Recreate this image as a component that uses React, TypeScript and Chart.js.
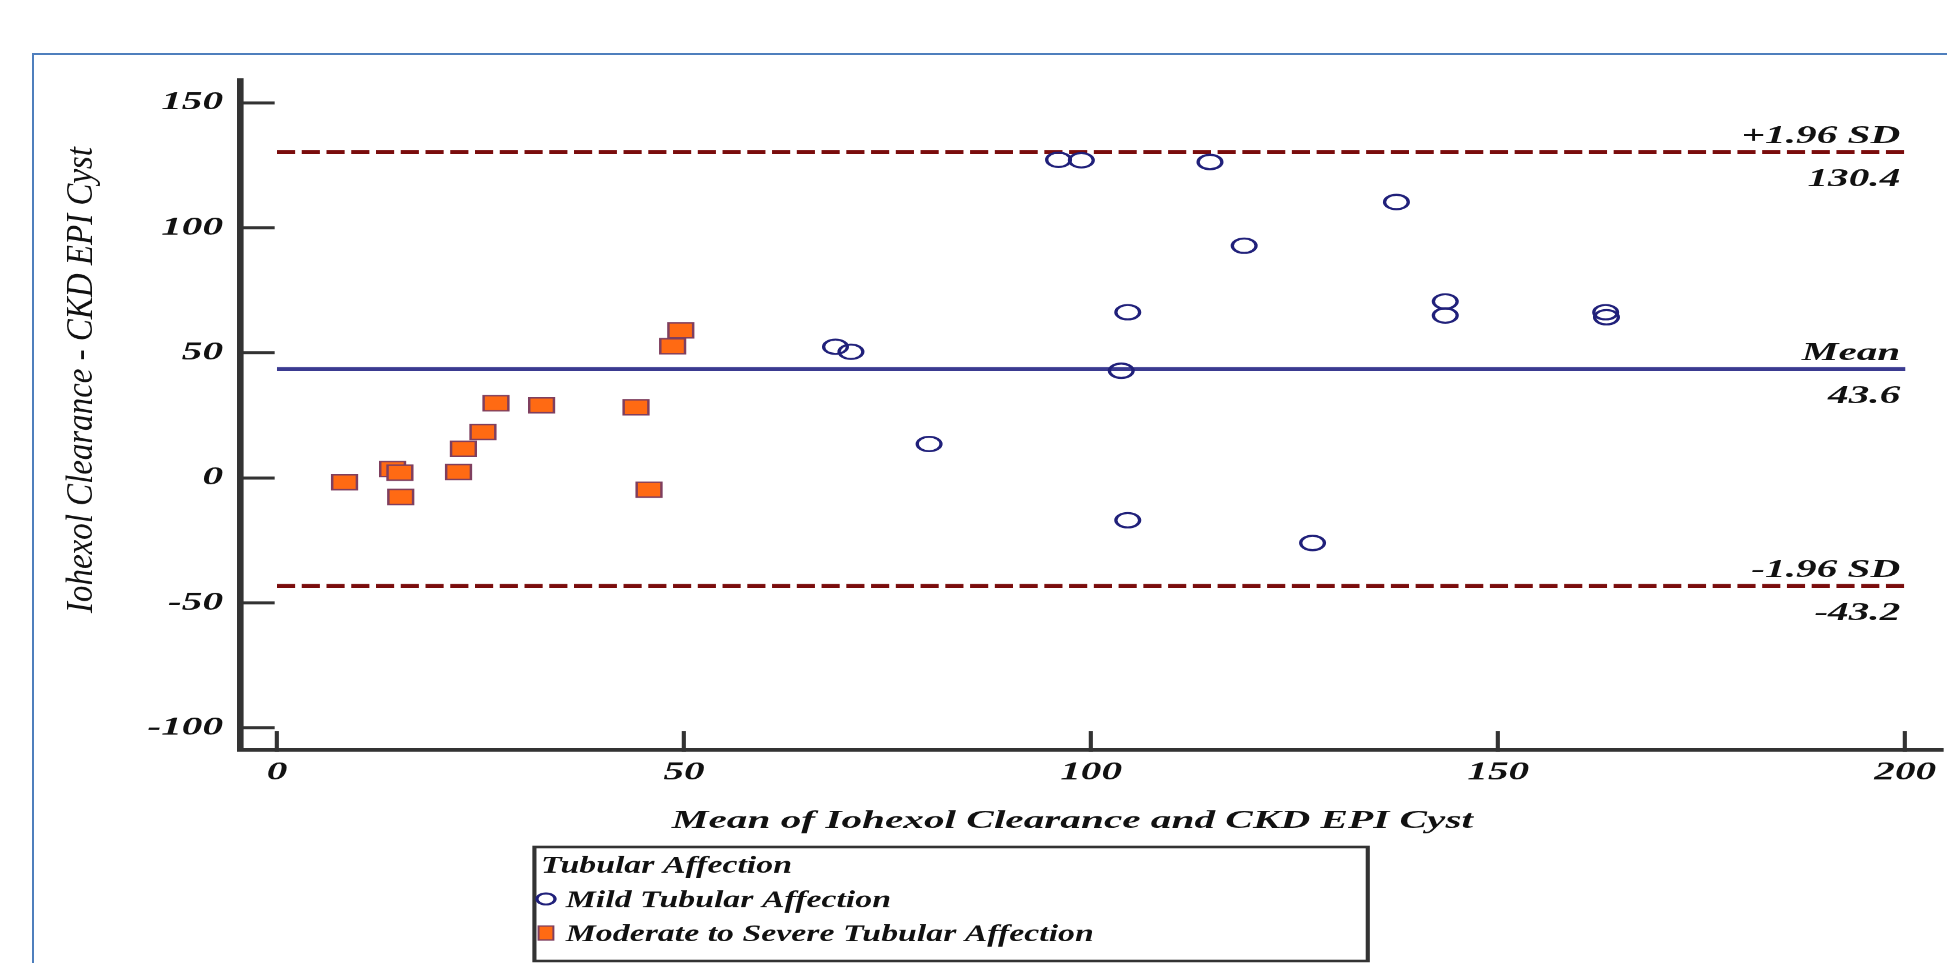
import React, { useEffect, useRef } from 'react';
import { Chart, registerables } from 'chart.js';

Chart.register(...registerables);

// ---- data ----
const mildX = [68.6, 70.5, 80.1, 96.0, 98.8, 103.7, 104.5, 104.5, 114.6, 118.8, 127.2, 137.5, 143.5, 143.5, 163.2, 163.3];
const mildY = [52.5, 50.5, 13.6, 127.3, 127.1, 42.9, 66.3, -16.9, 126.4, 92.9, -26.0, 110.4, 70.6, 65.0, 66.3, 64.3];
const severeX = [8.3, 14.2, 15.1, 15.2, 22.3, 22.9, 25.3, 26.9, 32.5, 44.1, 45.7, 48.6, 49.6];
const severeY = [-1.7, 3.6, 2.1, -7.6, 2.4, 11.7, 18.4, 29.9, 29.1, 28.3, -4.7, 52.7, 59.1];
const xTicks = [0, 50, 100, 150, 200];
const yTicks = [-100, -50, 0, 50, 100, 150];
const bandNames = ['+1.96 SD', 'Mean', '-1.96 SD'];
const bandValues = [130.4, 43.6, -43.2];
const seriesNames = ['Mild Tubular Affection', 'Moderate to Severe Tubular Affection'];
const legendTitle = 'Tubular Affection';
const xTitle = 'Mean of Iohexol Clearance and CKD EPI Cyst';
const yTitle = 'Iohexol Clearance - CKD EPI Cyst';

// ---- styling ----
const DISPLAY_W = 1939;
const DISPLAY_H = 955;
const LOGICAL_W = 1175; // canvas is stretched horizontally like the reference
const NAVY = '#20207a';
const ORANGE = '#ff6a13';
const SQ_BORDER = '#7f3f5f';
const MEAN_COLOR = '#3a3a90';
const SD_COLOR = '#7a0c0c';
const AXIS = '#333333';
const FAMILY = '"Liberation Serif", "Times New Roman", serif';

const bandLabelsPlugin = {
  id: 'bandLabels',
  afterDatasetsDraw(chart: any) {
    const { ctx, scales } = chart;
    const xs = scales.x;
    const ys = scales.y;
    ctx.save();
    ctx.font = `italic bold 25px ${FAMILY}`;
    ctx.fillStyle = '#111';
    ctx.textAlign = 'right';
    ctx.textBaseline = 'alphabetic';
    const xr = xs.getPixelForValue(xTicks[xTicks.length - 1]) - 3;
    bandNames.forEach((name, i) => {
      const py = ys.getPixelForValue(bandValues[i]);
      ctx.fillText(name, xr, py - 9);
      ctx.fillText(bandValues[i].toFixed(1), xr, py + 34);
    });
    ctx.restore();
  },
};

const titlesLegendPlugin = {
  id: 'titlesLegend',
  afterDraw(chart: any) {
    const { ctx } = chart;
    ctx.save();
    // y title (rotated, condensed)
    ctx.save();
    ctx.translate(45, 372);
    ctx.rotate(-Math.PI / 2);
    ctx.font = `italic 23px ${FAMILY}`;
    const w = ctx.measureText(yTitle).width;
    ctx.scale(466 / w, 1);
    ctx.fillStyle = '#111';
    ctx.textAlign = 'center';
    ctx.textBaseline = 'middle';
    ctx.fillText(yTitle, 0, 0);
    ctx.restore();

    // x title
    ctx.font = `italic bold 25px ${FAMILY}`;
    ctx.fillStyle = '#111';
    ctx.textAlign = 'center';
    ctx.textBaseline = 'alphabetic';
    ctx.fillText(xTitle, 645, 820);

    // legend box
    ctx.lineWidth = 2.5;
    ctx.strokeStyle = AXIS;
    ctx.strokeRect(319, 839, 505, 114);

    // legend texts (slightly condensed like the reference)
    ctx.font = `italic bold 24px ${FAMILY}`;
    const rowW = ctx.measureText(seriesNames[1]).width;
    const k = 320 / rowW;
    const drawText = (t: string, x: number, y: number) => {
      ctx.save();
      ctx.translate(x, y);
      ctx.scale(k, 1);
      ctx.fillText(t, 0, 0);
      ctx.restore();
    };
    ctx.textAlign = 'left';
    ctx.fillStyle = '#111';
    drawText(legendTitle, 323, 865);
    // circle marker
    ctx.beginPath();
    ctx.arc(326, 891, 5.5, 0, Math.PI * 2);
    ctx.lineWidth = 2;
    ctx.strokeStyle = NAVY;
    ctx.stroke();
    ctx.fillStyle = '#111';
    drawText(seriesNames[0], 338, 899);
    // square marker
    ctx.fillStyle = ORANGE;
    ctx.fillRect(321.5, 918, 9, 14);
    ctx.lineWidth = 1.2;
    ctx.strokeStyle = SQ_BORDER;
    ctx.strokeRect(321.5, 918, 9, 14);
    ctx.fillStyle = '#111';
    drawText(seriesNames[1], 338, 933);
    ctx.restore();
  },
};

const tickFont = { family: FAMILY, size: 25, style: 'italic' as const, weight: 'bold' as const };

export default function App() {
  const ref = useRef<HTMLCanvasElement>(null);

  useEffect(() => {
    const canvas = ref.current;
    if (!canvas) return;
    const lineData = (v: number) => [
      { x: xTicks[0], y: v },
      { x: xTicks[xTicks.length - 1], y: v },
    ];
    const chart = new Chart(canvas, {
      type: 'scatter',
      data: {
        datasets: [
          {
            label: seriesNames[0],
            data: mildX.map((x, i) => ({ x, y: mildY[i] })),
            pointStyle: 'circle',
            pointRadius: 7.2,
            pointBorderWidth: 2,
            pointBorderColor: NAVY,
            pointBackgroundColor: 'rgba(0,0,0,0)',
          },
          {
            label: seriesNames[1],
            data: severeX.map((x, i) => ({ x, y: severeY[i] })),
            pointStyle: 'rect',
            pointRadius: 10.6,
            pointBorderWidth: 1.5,
            pointBorderColor: SQ_BORDER,
            pointBackgroundColor: ORANGE,
          },
          ...bandValues.map((v, i) => ({
            label: bandNames[i],
            data: lineData(v),
            showLine: true,
            borderColor: i === 1 ? MEAN_COLOR : SD_COLOR,
            borderWidth: 4,
            borderDash: i === 1 ? [] : [11, 4],
            pointRadius: 0,
            fill: false,
          })),
        ],
      } as any,
      options: {
        animation: false,
        responsive: false,
        devicePixelRatio: DISPLAY_W / LOGICAL_W,
        events: [],
        layout: { autoPadding: false, padding: { left: 0, top: 72, right: 2.3, bottom: 0 } },
        plugins: {
          legend: { display: false },
          tooltip: { enabled: false },
        },
        scales: {
          x: {
            type: 'linear',
            bounds: 'data',
            min: -4.54,
            max: 204.66,
            afterBuildTicks: (a: any) => {
              a.ticks = xTicks.map((v) => ({ value: v }));
            },
            afterFit: (s: any) => {
              s.height = 213;
              s.paddingLeft = 0;
              s.paddingRight = 0;
            },
            border: { display: true, color: AXIS, width: 4 },
            grid: {
              display: true,
              drawOnChartArea: false,
              drawTicks: true,
              tickLength: -19,
              tickWidth: 2.5,
              tickColor: AXIS,
            },
            ticks: {
              padding: 27,
              color: '#111',
              font: tickFont,
              maxRotation: 0,
              autoSkip: false,
              callback: (v: any) => String(v),
            },
          },
          y: {
            type: 'linear',
            bounds: 'data',
            min: -108.8,
            max: 159.2,
            afterBuildTicks: (a: any) => {
              a.ticks = yTicks.map((v) => ({ value: v }));
            },
            afterFit: (s: any) => {
              s.width = 140.6;
              s.paddingTop = 0;
              s.paddingBottom = 0;
            },
            border: { display: true, color: AXIS, width: 4 },
            grid: {
              display: true,
              drawOnChartArea: false,
              drawTicks: true,
              tickLength: -21,
              tickWidth: 3,
              tickColor: AXIS,
            },
            ticks: {
              padding: 31.3,
              color: '#111',
              font: tickFont,
              autoSkip: false,
              callback: (v: any) => String(v),
            },
          },
        },
      } as any,
      plugins: [bandLabelsPlugin, titlesLegendPlugin],
    });
    return () => chart.destroy();
  }, []);

  return (
    <div style={{ position: 'relative', width: DISPLAY_W, height: DISPLAY_H, overflow: 'hidden', background: '#fff' }}>
      <div
        style={{
          position: 'absolute',
          left: 24,
          top: 45,
          width: 2000,
          height: 2000,
          border: '2px solid #4f7fbd',
          boxSizing: 'border-box',
        }}
      />
      <canvas
        ref={ref}
        width={LOGICAL_W}
        height={DISPLAY_H}
        style={{ position: 'relative', display: 'block', width: `${DISPLAY_W}px`, height: `${DISPLAY_H}px` }}
      />
    </div>
  );
}
